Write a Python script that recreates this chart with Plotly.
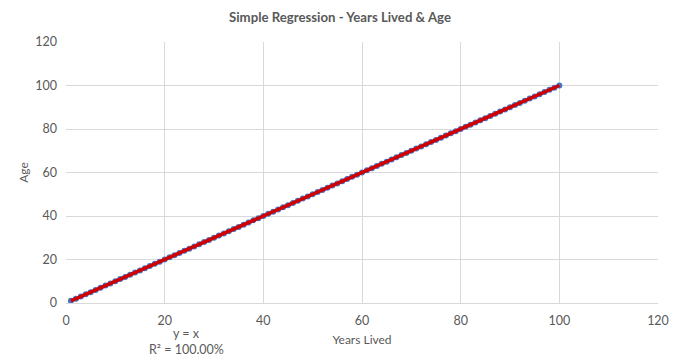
import plotly.graph_objects as go

years_lived = list(range(1, 101))
age = list(range(1, 101))
trend_x = [1, 100]
trend_y = [1, 100]

title_text = "Simple Regression - Years Lived & Age"
x_title = "Years Lived"
y_title = "Age"
eq_line1 = "y = x"
eq_line2 = "R² = 100.00%"

font_family = "Lato, 'Open Sans', sans-serif"
gray = "#595959"

fig = go.Figure()
fig.add_trace(go.Scatter(
    x=years_lived, y=age, mode="markers",
    marker=dict(color="#4472C4", size=6, symbol="circle"),
    showlegend=False, hoverinfo="skip",
))
fig.add_trace(go.Scatter(
    x=trend_x, y=trend_y, mode="lines",
    line=dict(color="#D00000", width=3.5),
    showlegend=False, hoverinfo="skip",
))

for txt, yp in [(eq_line1, -0.115), (eq_line2, -0.18)]:
    fig.add_annotation(
        x=24.5, y=yp, xref="x", yref="paper",
        text=txt, showarrow=False,
        xanchor="center", yanchor="middle",
        font=dict(family=font_family, size=12.5, color=gray),
    )

fig.update_layout(
    width=680, height=363,
    margin=dict(l=66, r=22, t=42, b=60, autoexpand=False),
    paper_bgcolor="white", plot_bgcolor="white",
    title=dict(text="<b>" + title_text + "</b>", x=0.5, xanchor="center",
               y=0.953, yanchor="middle",
               font=dict(family=font_family, size=13.2, color=gray)),
    font=dict(family=font_family, size=12, color=gray),
)
fig.update_xaxes(
    range=[0, 120], dtick=20, tick0=0, automargin=False,
    showgrid=True, gridcolor="#D9D9D9", gridwidth=1,
    zeroline=False, showline=True, linecolor="#D9D9D9", mirror=False,
    ticks="", ticklabelstandoff=6,
    title=dict(text=x_title, standoff=8, font=dict(size=12, color=gray)),
    tickfont=dict(size=12.5, color=gray),
)
fig.update_yaxes(
    range=[0, 120], dtick=20, tick0=0, automargin=False,
    showgrid=True, gridcolor="#D9D9D9", gridwidth=1,
    zeroline=False, showline=False,
    ticks="", ticklabelstandoff=8,
    title=dict(text=y_title, standoff=4, font=dict(size=12, color=gray)),
    tickfont=dict(size=12.5, color=gray),
)

fig.write_html("out.html", config={"displayModeBar": False},
               post_script="document.body.style.margin='0';")
